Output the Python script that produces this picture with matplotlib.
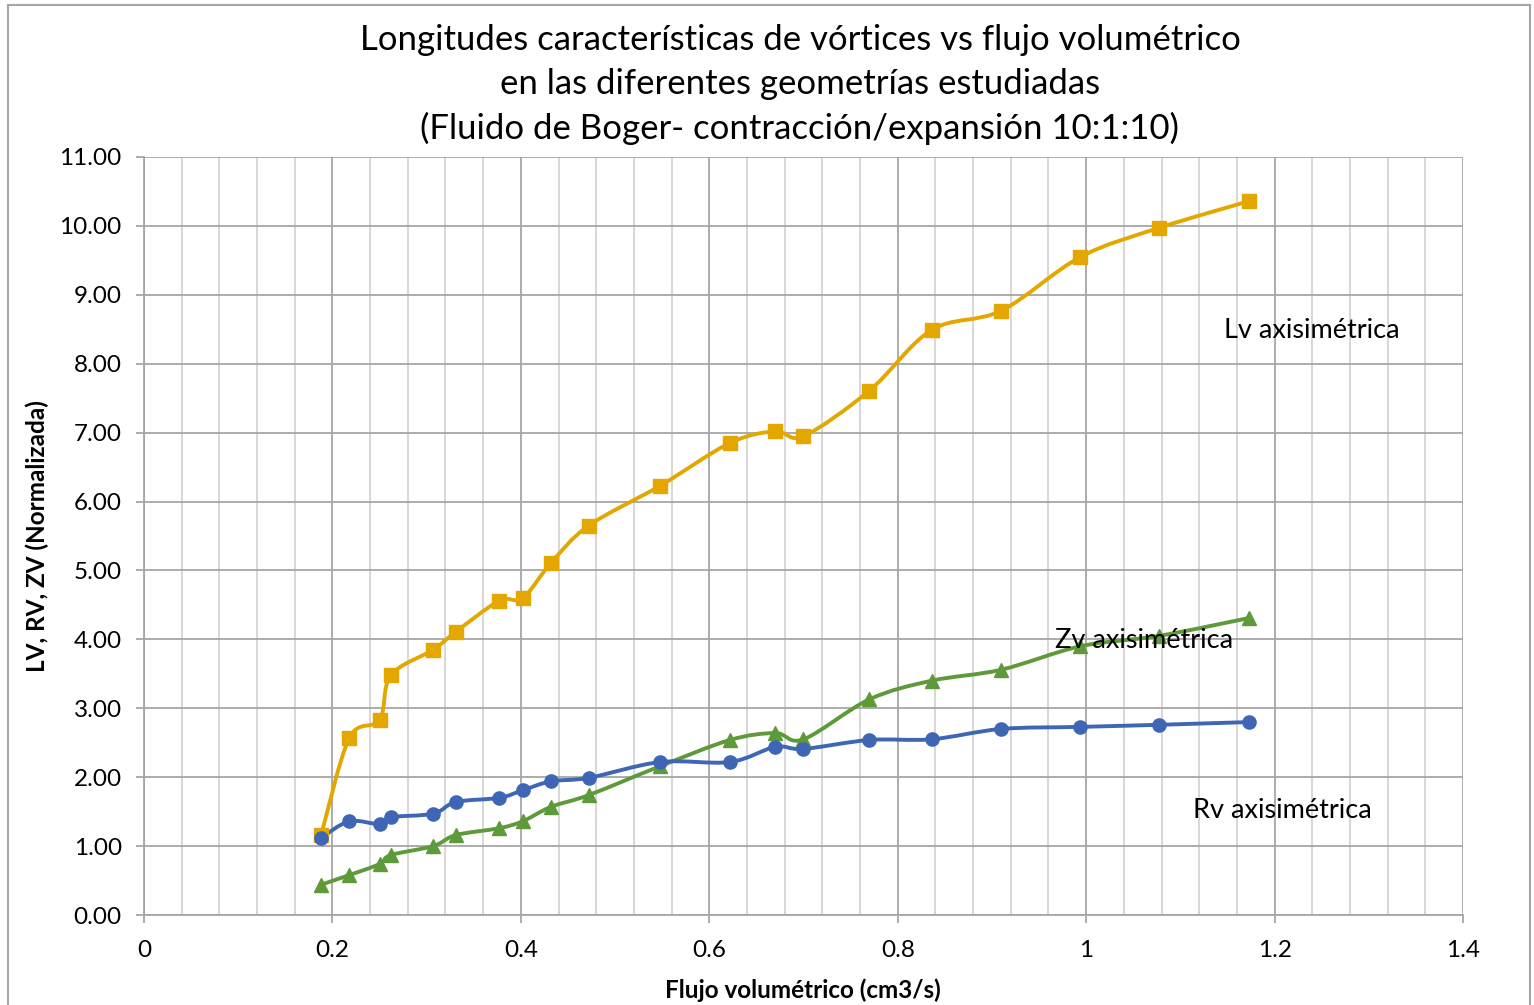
import numpy as np
import matplotlib
matplotlib.use("Agg")
import matplotlib.pyplot as plt
from matplotlib.path import Path
from matplotlib.patches import PathPatch
from matplotlib.lines import Line2D
from matplotlib.ticker import MultipleLocator, FormatStrFormatter, FuncFormatter

plt.rcParams['font.family'] = ['Lato', 'DejaVu Sans']

# ---- data ----
flujo = [0.188, 0.218, 0.250, 0.262, 0.307, 0.331, 0.377, 0.402, 0.432, 0.472,
         0.548, 0.622, 0.670, 0.700, 0.770, 0.836, 0.910, 0.994, 1.077, 1.173]
lv = [1.16, 2.57, 2.83, 3.48, 3.85, 4.11, 4.56, 4.60, 5.11, 5.65,
      6.23, 6.85, 7.02, 6.95, 7.61, 8.49, 8.77, 9.55, 9.97, 10.36]
rv = [1.12, 1.36, 1.32, 1.42, 1.47, 1.64, 1.70, 1.81, 1.94, 1.99,
      2.22, 2.22, 2.44, 2.41, 2.54, 2.55, 2.70, 2.73, 2.76, 2.80]
zv = [0.44, 0.58, 0.74, 0.87, 1.00, 1.16, 1.26, 1.36, 1.57, 1.74,
      2.16, 2.54, 2.64, 2.55, 3.13, 3.40, 3.56, 3.90, 4.05, 4.31]
series_labels = ["Lv axisimétrica", "Zv axisimétrica", "Rv axisimétrica"]
label_pos = [(1.239, 8.48), (1.061, 3.98), (1.208, 1.51)]

title_lines = ["Longitudes características de vórtices vs flujo volumétrico",
               "en las diferentes geometrías estudiadas",
               "(Fluido de Boger- contracción/expansión 10:1:10)"]
xlabel = "Flujo volumétrico (cm3/s)"
ylabel = "LV, RV, ZV (Normalizada)"

c_orange = '#E3A700'
c_blue = '#3F66B5'
c_green = '#5E9A3A'

W, H = 1534, 1005
fig = plt.figure(figsize=(W / 100, H / 100), dpi=100)
ax = fig.add_axes([144 / W, 1 - 915 / H, (1463 - 144) / W, (915 - 157) / H])
ax.set_xlim(0, 1.4)
ax.set_ylim(0, 11)

# smoothed line (Excel-style Bezier)
def smooth_path(xs, ys, sx, sy):
    P = np.column_stack([np.asarray(xs) * sx, np.asarray(ys) * sy])
    n = len(P)
    verts = [tuple(P[0])]
    codes = [Path.MOVETO]
    for i in range(n - 1):
        p0 = P[i - 1] if i > 0 else P[i]
        p1 = P[i]
        p2 = P[i + 1]
        p3 = P[i + 2] if i + 2 < n else P[i + 1]
        c1 = p1 + (p2 - p0) / 6.0
        c2 = p2 - (p3 - p1) / 6.0
        verts += [tuple(c1), tuple(c2), tuple(p2)]
        codes += [Path.CURVE4] * 3
    v = np.array(verts)
    v[:, 0] /= sx
    v[:, 1] /= sy
    return Path(v, codes)

sx = 942.1
sy = 68.9
for ys, col, mk, ms in [(lv, c_orange, 's', 9.5), (zv, c_green, '^', 9.5), (rv, c_blue, 'o', 9.5)]:
    pth = smooth_path(flujo, ys, sx, sy)
    ax.add_patch(PathPatch(pth, facecolor='none', edgecolor=col, lw=2.8, zorder=3,
                           capstyle='round', joinstyle='round'))
    ax.plot(flujo, ys, linestyle='none', marker=mk, color=col, markersize=ms,
            markeredgecolor=col, zorder=4)

# grid
ax.xaxis.set_major_locator(MultipleLocator(0.2))
ax.xaxis.set_minor_locator(MultipleLocator(0.04))
ax.yaxis.set_major_locator(MultipleLocator(1.0))
ax.grid(which='major', axis='both', color='#A6A6A6', lw=1.3, zorder=0)
ax.grid(which='minor', axis='x', color='#D4D4D4', lw=1.3, zorder=0)
ax.set_axisbelow(True)
for s in ['top', 'right']:
    ax.spines[s].set_visible(False)
ax.spines['left'].set_color('#A6A6A6')
ax.spines['bottom'].set_color('#A6A6A6')
ax.spines['left'].set_linewidth(1.3)
ax.spines['bottom'].set_linewidth(1.3)

ax.yaxis.set_major_formatter(FormatStrFormatter('%.2f'))
ax.xaxis.set_major_formatter(FuncFormatter(lambda v, p: '0' if abs(v) < 1e-9 else ('%g' % round(v, 2))))
ax.tick_params(axis='both', which='major', labelsize=17.5, color='#A6A6A6', length=6, width=1.3,
               labelcolor='black')
ax.tick_params(axis='x', which='minor', length=0)
ax.tick_params(axis='x', pad=12)
ax.tick_params(axis='y', pad=10)

fig.text(803 / W, 1 - 990 / H, xlabel, fontsize=17.5, fontweight='bold', ha='center', va='center')
fig.text(37 / W, 1 - 536 / H, ylabel, fontsize=17.5, fontweight='bold', ha='center', va='center',
         rotation=90)

for lab, (lx, ly) in zip(series_labels, label_pos):
    ax.text(lx, ly, lab, fontsize=19.5, ha='center', va='center', zorder=5)

for i, line in enumerate(title_lines):
    fig.text(800 / W, 1 - (40 + 44 * i) / H, line, fontsize=25, ha='center', va='center')

# chart border
fig.add_artist(Line2D([8 / W, 8 / W], [0, 1 - 5 / H], color='#A6A6A6', lw=1.5,
                      transform=fig.transFigure))
fig.add_artist(Line2D([8 / W, 1530 / W], [1 - 5 / H, 1 - 5 / H], color='#A6A6A6', lw=1.5,
                      transform=fig.transFigure))
fig.add_artist(Line2D([1530 / W, 1530 / W], [0, 1 - 5 / H], color='#A6A6A6', lw=1.5,
                      transform=fig.transFigure))

fig.savefig('out.png', dpi=100)
